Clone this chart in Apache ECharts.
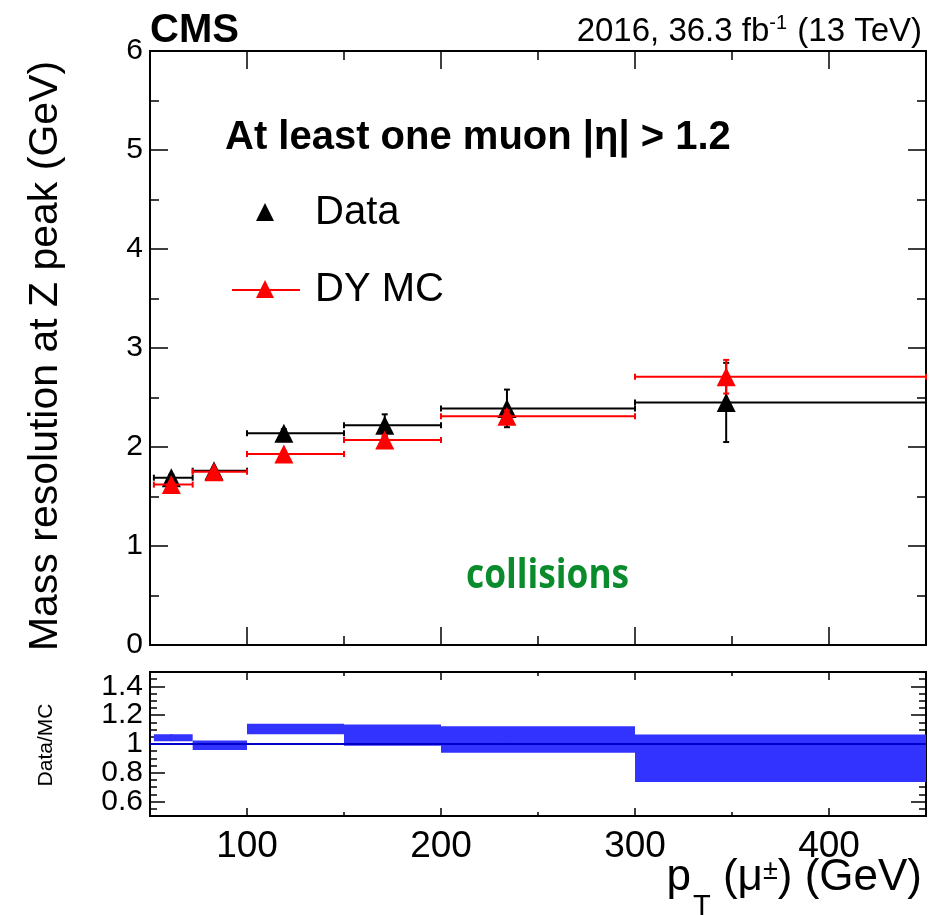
<!DOCTYPE html>
<html>
<head>
<meta charset="utf-8">
<script src="https://cdn.jsdelivr.net/npm/echarts@6/dist/echarts.min.js"></script>
<style>
  html, body { margin: 0; padding: 0; background: #fff; }
  #main { width: 939px; height: 915px; }
</style>
</head>
<body>
<div id="main"></div>
<script>
// bins in pT (GeV) and the mean pT of each bin
var binLow  = [52, 72, 100, 150, 200, 300];
var binHigh = [72, 100, 150, 200, 300, 450];
var ptMean  = [61, 83, 119, 171, 234, 347];

// mass resolution at Z peak (GeV)
var dataRes = [1.69, 1.76, 2.14, 2.22, 2.39, 2.45];
var dataErr = [0.03, 0.03, 0.04, 0.11, 0.19, 0.40];
var mcRes   = [1.62, 1.75, 1.93, 2.07, 2.31, 2.71];
var mcErr   = [0.02, 0.02, 0.03, 0.05, 0.06, 0.17];

// Data/MC ratio and its uncertainty band
var ratio    = [1.043, 0.991, 1.104, 1.062, 1.031, 0.901];
var ratioErr = [0.024, 0.033, 0.037, 0.074, 0.092, 0.165];

var FONT = "'Liberation Sans', Helvetica, Arial, sans-serif";

var myChart = echarts.init(document.getElementById('main'));

function rows(y, e) {
    return y.map(function (v, i) { return [binLow[i], binHigh[i], ptMean[i], v, e[i]]; });
}
function points(y) {
    return y.map(function (v, i) { return [ptMean[i], v]; });
}

// error bars: horizontal = bin width, vertical = uncertainty
function errBars(color) {
    return function (params, api) {
        var lo = api.value(0), hi = api.value(1), x = api.value(2), y = api.value(3), e = api.value(4);
        var a = api.coord([lo, y]), b = api.coord([hi, y]);
        var t = api.coord([x, y + e]), d = api.coord([x, y - e]);
        var st = { stroke: color, lineWidth: 2 };
        var cap = 3;
        return {
            type: 'group',
            children: [
                { type: 'line', shape: { x1: a[0], y1: a[1], x2: b[0], y2: b[1] }, style: st },
                { type: 'line', shape: { x1: a[0], y1: a[1] - cap, x2: a[0], y2: a[1] + cap }, style: st },
                { type: 'line', shape: { x1: b[0], y1: b[1] - cap, x2: b[0], y2: b[1] + cap }, style: st },
                { type: 'line', shape: { x1: t[0], y1: t[1], x2: d[0], y2: d[1] }, style: st },
                { type: 'line', shape: { x1: t[0] - cap, y1: t[1], x2: t[0] + cap, y2: t[1] }, style: st },
                { type: 'line', shape: { x1: d[0] - cap, y1: d[1], x2: d[0] + cap, y2: d[1] }, style: st }
            ]
        };
    };
}

function band(params, api) {
    var lo = api.value(0), hi = api.value(1), y = api.value(3), e = api.value(4);
    var p0 = api.coord([lo, y + e]), p1 = api.coord([hi, y - e]);
    return {
        type: 'rect',
        shape: { x: p0[0], y: p0[1], width: p1[0] - p0[0], height: p1[1] - p0[1] },
        style: { fill: '#3333ff' }
    };
}

var lineSt = { show: true, lineStyle: { color: '#000', width: 2 } };

// x axes: one with ticks every 50 (short), one auto every 100 (long)
function xAxes(grid, pos, shortLen, longLen, labels) {
    return [
        { type: 'value', gridIndex: grid, position: pos, min: 50, max: 450, interval: 50,
          axisLine: lineSt, splitLine: { show: false }, axisLabel: { show: false },
          axisTick: { inside: true, length: shortLen, lineStyle: { color: '#000', width: 1.5 } } },
        { type: 'value', gridIndex: grid, position: pos, min: 50, max: 450, splitNumber: 4,
          axisLine: lineSt, splitLine: { show: false },
          axisLabel: { show: labels, fontFamily: FONT, fontSize: 37, color: '#000', margin: 12,
                       formatter: function (v) { return (v % 100 === 0) ? String(v) : ''; } },
          axisTick: { inside: true, length: longLen, lineStyle: { color: '#000', width: 1.5 } } }
    ];
}

var xAxis = []
    .concat(xAxes(0, 'bottom', 9, 18, false))
    .concat(xAxes(0, 'top', 9, 18, false))
    .concat(xAxes(1, 'bottom', 4, 8, true))
    .concat(xAxes(1, 'top', 4, 8, false));

function upperY(pos, labels) {
    return { type: 'value', gridIndex: 0, position: pos, min: 0, max: 6, interval: 1,
             axisLine: lineSt, splitLine: { show: false },
             axisTick: { inside: true, length: 18, lineStyle: { color: '#000', width: 1.5 } },
             minorTick: { show: true, splitNumber: 2, length: 9, lineStyle: { color: '#000', width: 1.5 } },
             minorSplitLine: { show: false },
             axisLabel: { show: labels, fontFamily: FONT, fontSize: 30, color: '#000', margin: 7 } };
}
function lowerY(pos, labels) {
    return [
        { type: 'value', gridIndex: 1, position: pos, min: 0.5, max: 1.5, interval: 0.05,
          axisLine: lineSt, splitLine: { show: false }, axisLabel: { show: false },
          axisTick: { inside: true, length: 7, lineStyle: { color: '#000', width: 1.5 } } },
        { type: 'value', gridIndex: 1, position: pos, min: 0.5, max: 1.5, splitNumber: 5,
          axisLine: lineSt, splitLine: { show: false },
          axisTick: { inside: true, length: 15, lineStyle: { color: '#000', width: 1.5 } },
          axisLabel: { show: labels, fontFamily: FONT, fontSize: 30, color: '#000', margin: 7,
                       formatter: function (v) { return (v < 0.55 || v > 1.45) ? '' : String(+v.toFixed(2)); } } }
    ];
}

var yAxis = [upperY('left', true), upperY('right', false)]
    .concat(lowerY('left', true))
    .concat(lowerY('right', false));

var tri = 'triangle';

option = {
    animation: false,
    backgroundColor: '#fff',
    grid: [
        { left: 150, top: 51, width: 776, height: 594 },
        { left: 150, top: 672, width: 776, height: 144 }
    ],
    xAxis: xAxis,
    yAxis: yAxis,
    series: [
        { type: 'custom', name: 'DataErr', xAxisIndex: 1, yAxisIndex: 0, renderItem: errBars('#000'),
          data: rows(dataRes, dataErr), z: 3 },
        { type: 'scatter', name: 'Data', xAxisIndex: 1, yAxisIndex: 0, symbol: tri, symbolSize: 19,
          itemStyle: { color: '#000', opacity: 1 }, data: points(dataRes), z: 4 },
        { type: 'custom', name: 'MCErr', xAxisIndex: 1, yAxisIndex: 0, renderItem: errBars('#ff0000'),
          data: rows(mcRes, mcErr), z: 5 },
        { type: 'scatter', name: 'DY MC', xAxisIndex: 1, yAxisIndex: 0, symbol: tri, symbolSize: 19,
          itemStyle: { color: '#ff0000', opacity: 1 }, data: points(mcRes), z: 6 },
        { type: 'custom', name: 'band', xAxisIndex: 5, yAxisIndex: 3, renderItem: band,
          data: rows(ratio, ratioErr), z: 2 },
        { type: 'scatter', name: 'ratio', xAxisIndex: 5, yAxisIndex: 3, symbol: 'circle', symbolSize: 7,
          itemStyle: { color: '#3333ff', opacity: 1 }, data: points(ratio), z: 3,
          markLine: { silent: true, symbol: 'none', label: { show: false },
                      lineStyle: { color: '#0000c8', width: 2, type: 'solid' },
                      data: [{ yAxis: 1 }] } }
    ],
    graphic: [
        { type: 'text', left: 150, top: 11,
          style: { text: 'CMS', font: 'bold 40px ' + FONT, fill: '#000' } },
        { type: 'text', x: 922, y: 32,
          style: { text: '2016, 36.3 fb{sup|-1} (13 TeV)', align: 'right', verticalAlign: 'middle',
                   font: '33px ' + FONT, fill: '#000',
                   rich: { sup: { fontSize: 20, fontFamily: FONT, padding: [0, 1, 18, 0] } } } },
        { type: 'text', x: 46, y: 356, rotation: Math.PI / 2,
          style: { text: 'Mass resolution at Z peak (GeV)', align: 'center', verticalAlign: 'middle',
                   font: '41px ' + FONT, fill: '#000' } },
        { type: 'text', x: 46, y: 745, rotation: Math.PI / 2,
          style: { text: 'Data/MC', align: 'center', verticalAlign: 'middle',
                   font: '21px ' + FONT, fill: '#000' } },
        { type: 'text', x: 922, y: 878,
          style: { text: 'p{sub|T} (\u03bc{sup|\u00b1}) (GeV)', align: 'right', verticalAlign: 'middle',
                   font: '44px ' + FONT, fill: '#000',
                   rich: { sub: { fontSize: 29, fontFamily: FONT, padding: [58, 0, 0, 2] },
                           sup: { fontSize: 27, fontFamily: FONT, padding: [0, 0, 12, 0] } } } },
        { type: 'text', x: 225, y: 138,
          style: { text: 'At least one muon |\u03b7| > 1.2', align: 'left', verticalAlign: 'middle',
                   font: 'bold 40px ' + FONT, fill: '#000' } },
        // legend
        { type: 'polygon', shape: { points: [[256, 221], [274, 221], [265, 203]] }, style: { fill: '#000' } },
        { type: 'text', x: 315, y: 213,
          style: { text: 'Data', verticalAlign: 'middle', font: '40px ' + FONT, fill: '#000' } },
        { type: 'line', shape: { x1: 232, y1: 290, x2: 300, y2: 290 }, style: { stroke: '#ff0000', lineWidth: 2 } },
        { type: 'polygon', shape: { points: [[256, 298], [274, 298], [265, 280]] }, style: { fill: '#ff0000' } },
        { type: 'text', x: 315, y: 290,
          style: { text: 'DY MC', verticalAlign: 'middle', font: '40px ' + FONT, fill: '#000' } },
        { type: 'text', x: 466, y: 576, scaleX: 0.84,
          style: { text: 'collisions', verticalAlign: 'middle', font: 'bold 42px "Open Sans", sans-serif', fill: '#0a8c2c' } }
    ]
};

myChart.setOption(option);
window.onresize = myChart.resize;
</script>
</body>
</html>
